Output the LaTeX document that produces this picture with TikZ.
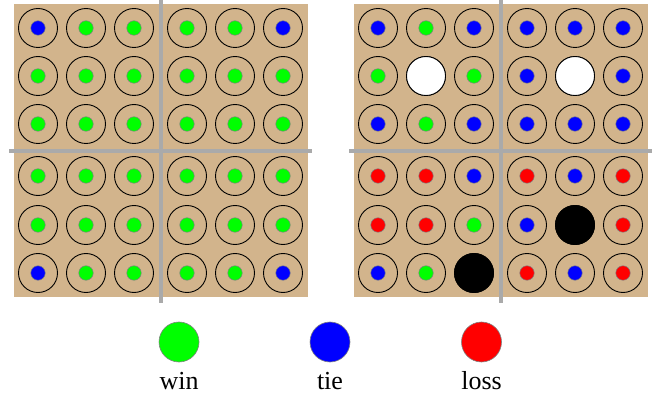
\documentclass[tikz,border=0pt]{standalone}
\usepackage{fontspec}
\setmainfont{Liberation Serif}
\usetikzlibrary{positioning}
\definecolor{boardtan}{RGB}{210,180,140}
\definecolor{divgray}{RGB}{170,170,170}
\definecolor{wincol}{RGB}{0,255,0}
\definecolor{tiecol}{RGB}{0,0,255}
\definecolor{losscol}{RGB}{255,0,0}
\tikzset{ring/.style={circle,draw=black,line width=0.9pt,minimum size=39pt,inner sep=0pt},
    dot/.style={circle,draw=gray,line width=0.5pt,minimum size=14.5pt,inner sep=0pt},
    win/.style={dot,fill=wincol},
    tie/.style={dot,fill=tiecol},
    loss/.style={dot,fill=losscol},
    whitestone/.style={ring,fill=white},
    blackstone/.style={ring,fill=black},
    divider/.style={draw=divgray,line width=4pt},
    key node/.style={circle,draw=gray,line width=0.6pt,minimum size=40pt,inner sep=0pt},
    key text/.style={anchor=base,inner sep=0pt,font=\fontsize{26}{30}\selectfont}}

\begin{document}
\begin{tikzpicture}[x=1pt,y=-1pt]
            \useasboundingbox (0,0) rectangle (654,393);
            % left board
            \fill[boardtan] (14,4) rectangle (308,297);
            \draw[divider] (160.5,0) -- (160.5,303);
            \draw[divider] (9,151) -- (312,151);
            \foreach \r/\y/\cols in {1/28/{tie,win,win,win,win,tie},
                                    2/76/{win,win,win,win,win,win},
                                    3/124/{win,win,win,win,win,win},
                                    4/176/{win,win,win,win,win,win},
                                    5/225/{win,win,win,win,win,win},
                                    6/273/{tie,win,win,win,win,tie}}{
                \foreach \col [count=\c] in \cols{
                    \pgfmathsetmacro\x{{38,86,134,187,235,283}[\c-1]}
                    \node[ring] (L-\r-\c) at (\x,\y) {};
                    \node[\col] (L-\r-\c-in) at (L-\r-\c) {};
                }
            }
            % right board
            \begin{scope}[xshift=340pt]
            \fill[boardtan] (14,4) rectangle (308,297);
            \draw[divider] (160.5,0) -- (160.5,303);
            \draw[divider] (9,151) -- (312,151);
            \foreach \r/\y/\cols in {1/28/{tie,win,tie,tie,tie,tie},
                                    2/76/{win,whitestone,win,tie,whitestone,tie},
                                    3/124/{tie,win,tie,tie,tie,tie},
                                    4/176/{loss,loss,tie,loss,tie,loss},
                                    5/225/{loss,loss,win,tie,blackstone,loss},
                                    6/273/{tie,win,blackstone,loss,tie,loss}}{
                \foreach \col [count=\c] in \cols{
                    \pgfmathsetmacro\x{{38,86,134,187,235,283}[\c-1]}
                    \node[ring] (R-\r-\c) at (\x,\y) {};
                    \node[\col] (R-\r-\c-in) at (R-\r-\c) {};
                }
            }
            \end{scope}
            % legend
            \foreach \x/\k/\t in {179/win/win,330/tie/tie,481.5/loss/loss}{
                \node[key node,fill=\k col] (key-\k) at (\x,342) {};
                \node[key text] (key-\k-text) at (\x,389) {\t};
            }
        \end{tikzpicture}
\end{document}
